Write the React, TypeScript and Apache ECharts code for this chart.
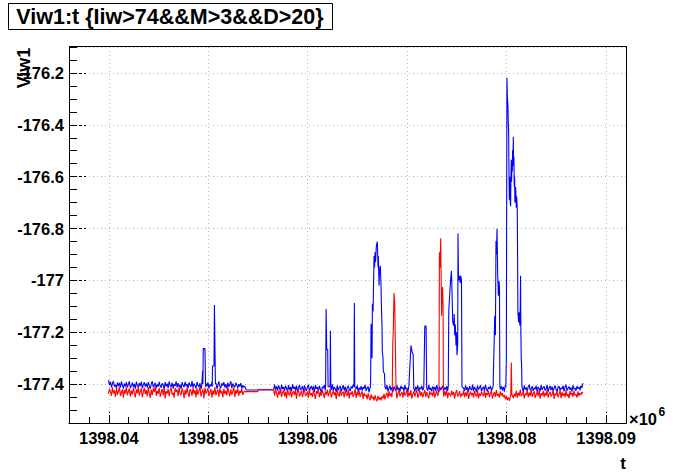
import React, { useEffect, useRef } from "react";
import * as echarts from "echarts";

// ---- sampling of the baseline (time in units of 10^6 s) ----
const T0 = 1398.03997;
const DT = 0.0001;

// ---- blue series baseline ----
const blueBase: number[] = [
  -177.386, -177.404, -177.391, -177.413, -177.397, -177.389, -177.41, -177.402, -177.416, -177.393,
  -177.408, -177.395, -177.414, -177.39, -177.403, -177.417, -177.398, -177.409, -177.392, -177.412,
  -177.401, -177.389, -177.415, -177.406, -177.394, -177.411, -177.399, -177.418, -177.391, -177.405,
  -177.413, -177.396, -177.408, -177.39, -177.416, -177.402, -177.393, -177.41, -177.397, -177.414,
  -177.392, -177.407, -177.418, -177.399, -177.389, -177.412, -177.404, -177.395, -177.416, -177.401,
  -177.41, -177.391, -177.406, -177.414, -177.397, -177.403, -177.419, -177.392, -177.409, -177.398,
  -177.415, -177.39, -177.404, -177.411, -177.394, -177.417, -177.4, -177.407, -177.389, -177.413,
  -177.396, -177.41, -177.402, -177.418, -177.393, -177.405, -177.412, -177.391, -177.408, -177.399,
  -177.416, -177.394, -177.403, -177.41, -177.388, -177.414, -177.398, -177.406, -177.417, -177.392,
  -177.405, -177.411, -177.396, -177.419, -177.401, -177.39, -177.413, -177.404, -177.397, -177.409,
  -177.393, -177.416, -177.402, -177.408, -177.391, -177.414, -177.399, -177.411, -177.395, -177.418,
  -177.404, -177.39, -177.409, -177.415, -177.397, -177.406, -177.392, -177.413, -177.4, -177.417,
  -177.394, -177.41, -177.403, -177.389, -177.416, -177.398, -177.407, -177.412, -177.395, -177.405,
  -177.414, -177.4, -177.409, -177.396, -177.418, -177.404, -177.412, -177.408, -177.419,
  -177.423, -177.423, -177.423, -177.423, -177.423, -177.423, -177.423, -177.423, -177.423, -177.423,
  -177.423, -177.423, -177.423, -177.423, -177.423, -177.423, -177.423, -177.423, -177.423, -177.423,
  -177.423, -177.423, -177.423, -177.423, -177.423, -177.423, -177.423, -177.423,
  -177.402, -177.42, -177.409, -177.425, -177.405, -177.416, -177.428, -177.403, -177.419, -177.411,
  -177.426, -177.407, -177.415, -177.43, -177.404, -177.421, -177.412, -177.427, -177.401, -177.418,
  -177.41, -177.424, -177.406, -177.429, -177.414, -177.403, -177.422, -177.417, -177.408, -177.431,
  -177.405, -177.419, -177.426, -177.411, -177.402, -177.428, -177.415, -177.407, -177.423, -177.409,
  -177.43, -177.404, -177.418, -177.412, -177.427, -177.406, -177.421, -177.432, -177.41, -177.416,
  -177.403, -177.425, -177.409, -177.419, -177.429, -177.407, -177.414, -177.422, -177.401, -177.426,
  -177.411, -177.418, -177.43, -177.405, -177.423, -177.413, -177.408, -177.428, -177.416, -177.404,
  -177.424, -177.41, -177.431, -177.415, -177.406, -177.42, -177.427, -177.409, -177.417, -177.402,
  -177.428, -177.412, -177.419, -177.405, -177.43, -177.414, -177.422, -177.408, -177.425, -177.411,
  -177.418, -177.403, -177.427, -177.416, -177.409, -177.432, -177.413, -177.406, -177.421, -177.429,
  -177.407, -177.423, -177.412, -177.404, -177.426, -177.418, -177.41, -177.43, -177.415, -177.408,
  -177.425, -177.411, -177.42, -177.403, -177.428, -177.417, -177.406, -177.424, -177.413, -177.431,
  -177.409, -177.419, -177.426, -177.405, -177.422, -177.414, -177.429, -177.407, -177.418, -177.412,
  -177.427, -177.404, -177.42, -177.415, -177.431, -177.408, -177.423, -177.411, -177.402, -177.426,
  -177.416, -177.429, -177.41, -177.421, -177.405, -177.428, -177.413, -177.419, -177.407, -177.424,
  -177.412, -177.43, -177.406, -177.417, -177.425, -177.403, -177.422, -177.414, -177.428, -177.409,
  -177.42, -177.411, -177.427, -177.404, -177.418, -177.431, -177.41, -177.423, -177.415, -177.406,
  -177.429, -177.413, -177.421, -177.408, -177.426, -177.417, -177.404, -177.424, -177.412, -177.43,
  -177.407, -177.419, -177.428, -177.414, -177.403, -177.425, -177.41, -177.42, -177.431, -177.409,
  -177.416, -177.426, -177.405, -177.422, -177.413, -177.429, -177.408, -177.418, -177.424, -177.402,
  -177.427, -177.411, -177.419, -177.43, -177.406, -177.421, -177.414, -177.404, -177.428, -177.417,
  -177.41, -177.425, -177.403, -177.42, -177.429, -177.412, -177.418, -177.407, -177.426, -177.415,
  -177.431, -177.409, -177.422, -177.413, -177.405, -177.427, -177.416, -177.42, -177.408, -177.424,
  -177.411, -177.429, -177.404, -177.418, -177.425, -177.41, -177.43, -177.414, -177.406, -177.421,
  -177.417, -177.403, -177.426, -177.412, -177.428, -177.407, -177.419, -177.423, -177.409, -177.415,
  -177.43, -177.405, -177.421, -177.413, -177.427, -177.41, -177.402, -177.424, -177.418, -177.408,
  -177.426, -177.414, -177.42, -177.406, -177.431, -177.411, -177.417, -177.428, -177.404, -177.422,
  -177.413, -177.409, -177.425, -177.418, -177.403, -177.429, -177.415, -177.407, -177.423, -177.41,
  -177.427, -177.416, -177.405, -177.42, -177.43, -177.412, -177.408, -177.424, -177.414, -177.419,
  -177.406, -177.428, -177.411, -177.402, -177.425, -177.417, -177.409, -177.422, -177.413, -177.429,
  -177.404, -177.42, -177.415, -177.426, -177.408, -177.418, -177.411, -177.424, -177.406, -177.415, -177.396,
];

// ---- red series baseline ----
const redBase: number[] = [
  -177.438, -177.418, -177.43, -177.445, -177.412, -177.436, -177.424, -177.449, -177.415, -177.441,
  -177.427, -177.411, -177.446, -177.433, -177.419, -177.452, -177.422, -177.437, -177.41, -177.443,
  -177.429, -177.416, -177.448, -177.425, -177.44, -177.413, -177.434, -177.451, -177.42, -177.436,
  -177.409, -177.444, -177.428, -177.417, -177.45, -177.431, -177.414, -177.439, -177.423, -177.447,
  -177.412, -177.435, -177.453, -177.421, -177.442, -177.416, -177.43, -177.408, -177.445, -177.426,
  -177.438, -177.414, -177.449, -177.432, -177.419, -177.444, -177.411, -177.455, -177.427, -177.437,
  -177.418, -177.446, -177.424, -177.413, -177.441, -177.433, -177.452, -177.415, -177.43, -177.421,
  -177.447, -177.41, -177.436, -177.443, -177.417, -177.429, -177.454, -177.422, -177.44, -177.412,
  -177.434, -177.45, -177.419, -177.427, -177.445, -177.414, -177.438, -177.423, -177.451, -177.416,
  -177.442, -177.426, -177.409, -177.448, -177.431, -177.42, -177.455, -177.413, -177.437, -177.428,
  -177.415, -177.446, -177.433, -177.418, -177.452, -177.424, -177.44, -177.411, -177.443, -177.43,
  -177.421, -177.449, -177.414, -177.436, -177.427, -177.451, -177.417, -177.439, -177.425, -177.444,
  -177.41, -177.432, -177.447, -177.419, -177.441, -177.428, -177.412, -177.45, -177.423, -177.437,
  -177.416, -177.445, -177.426, -177.434, -177.419, -177.442, -177.431, -177.427, -177.43,
  -177.429, -177.429, -177.429, -177.429, -177.429, -177.429, -177.429, -177.429, -177.429, -177.429,
  -177.429, -177.429,
  -177.421, -177.421, -177.421, -177.421, -177.421, -177.421, -177.421, -177.421, -177.421, -177.421,
  -177.421, -177.421, -177.421, -177.421, -177.421, -177.421,
  -177.445, -177.42, -177.436, -177.452, -177.426, -177.441, -177.418, -177.449, -177.432, -177.424,
  -177.447, -177.429, -177.455, -177.421, -177.438, -177.444, -177.419, -177.451, -177.434, -177.427,
  -177.442, -177.423, -177.456, -177.431, -177.418, -177.448, -177.437, -177.425, -177.45, -177.433,
  -177.421, -177.446, -177.439, -177.428, -177.453, -177.42, -177.443, -177.435, -177.449, -177.424,
  -177.44, -177.457, -177.426, -177.437, -177.419, -177.45, -177.431, -177.445, -177.422, -177.438,
  -177.454, -177.428, -177.441, -177.421, -177.447, -177.433, -177.418, -177.452, -177.436, -177.426,
  -177.443, -177.43, -177.458, -177.423, -177.439, -177.448, -177.42, -177.445, -177.434, -177.429,
  -177.451, -177.424, -177.437, -177.446, -177.422, -177.455, -177.432, -177.44, -177.427, -177.449,
  -177.436, -177.419, -177.453, -177.43, -177.444, -177.425, -177.45, -177.438, -177.428, -177.457,
  -177.434, -177.446, -177.441, -177.459, -177.436, -177.452, -177.462, -177.44, -177.455, -177.448,
  -177.464, -177.443, -177.458, -177.466, -177.445, -177.46, -177.451, -177.463, -177.447, -177.456,
  -177.438, -177.459, -177.442, -177.433, -177.454, -177.427, -177.446, -177.436, -177.451, -177.424,
  -177.441, -177.449, -177.429, -177.455, -177.435, -177.422, -177.447, -177.438, -177.43, -177.452,
  -177.426, -177.444, -177.437, -177.42, -177.45, -177.432, -177.445, -177.423, -177.456, -177.439,
  -177.428, -177.448, -177.434, -177.421, -177.453, -177.44, -177.425, -177.446, -177.431, -177.451,
  -177.437, -177.422, -177.449, -177.43, -177.443, -177.455, -177.427, -177.44, -177.433, -177.447,
  -177.42, -177.452, -177.438, -177.426, -177.445, -177.431, -177.458, -177.424, -177.441, -177.436,
  -177.449, -177.428, -177.444, -177.421, -177.454, -177.433, -177.439, -177.447, -177.425, -177.442,
  -177.43, -177.456, -177.435, -177.422, -177.448, -177.44, -177.427, -177.451, -177.437, -177.444,
  -177.424, -177.45, -177.432, -177.446, -177.42, -177.457, -177.438, -177.429, -177.443, -177.434,
  -177.452, -177.426, -177.441, -177.448, -177.423, -177.455, -177.436, -177.445, -177.43, -177.439,
  -177.447, -177.421, -177.453, -177.434, -177.442, -177.427, -177.45, -177.437, -177.425, -177.456,
  -177.44, -177.431, -177.449, -177.423, -177.446, -177.438, -177.452, -177.428, -177.444, -177.435,
  -177.45, -177.442, -177.458, -177.446, -177.462, -177.451, -177.465, -177.449, -177.459, -177.444,
  -177.454, -177.437, -177.448, -177.426, -177.452, -177.433, -177.445, -177.421, -177.447, -177.439,
  -177.429, -177.455, -177.436, -177.443, -177.424, -177.451, -177.432, -177.446, -177.42, -177.449,
  -177.438, -177.427, -177.453, -177.441, -177.43, -177.447, -177.422, -177.456, -177.435, -177.444,
  -177.426, -177.45, -177.433, -177.445, -177.421, -177.452, -177.437, -177.429, -177.448, -177.44,
  -177.424, -177.457, -177.436, -177.443, -177.428, -177.451, -177.439, -177.423, -177.454, -177.431,
  -177.446, -177.435, -177.45, -177.422, -177.447, -177.438, -177.455, -177.427, -177.442, -177.433,
  -177.449, -177.425, -177.444, -177.439, -177.452, -177.428, -177.446, -177.434, -177.441, -177.43, -177.436,
];

// ---- blue excursions: [t, Viw1] ----
const blueSpikes: number[][][] = [
  [[1398.04935, -177.405], [1398.04943, -177.35], [1398.04946, -177.4], [1398.0495, -177.263], [1398.04967, -177.263], [1398.04973, -177.41]],
  [[1398.0504, -177.41], [1398.05043, -177.33], [1398.05058, -177.33], [1398.05062, -177.095], [1398.05067, -177.095], [1398.05072, -177.4]],
  [[1398.0618, -177.405], [1398.06185, -177.11], [1398.06191, -177.267], [1398.06201, -177.267], [1398.06205, -177.41], [1398.06225, -177.41], [1398.06228, -177.194], [1398.06232, -177.41]],
  [[1398.06465, -177.41], [1398.06469, -177.087], [1398.06473, -177.41]],
  [[1398.06632, -177.41], [1398.06637, -177.167], [1398.06647, -177.3], [1398.0665, -177.09], [1398.06657, -177.12], [1398.06667, -176.906], [1398.06672, -176.95], [1398.06677, -176.892], [1398.06682, -176.93], [1398.0669, -176.867], [1398.067, -176.851], [1398.06707, -176.95], [1398.0671, -176.906], [1398.06717, -177.02], [1398.06722, -176.96], [1398.0673, -176.944], [1398.06737, -177.02], [1398.0674, -177.083], [1398.06747, -177.18], [1398.0675, -177.275], [1398.06757, -177.3], [1398.0676, -177.351], [1398.06772, -177.36], [1398.06777, -177.41]],
  [[1398.0702, -177.41], [1398.07026, -177.34], [1398.07038, -177.251], [1398.07049, -177.275], [1398.0706, -177.286], [1398.07066, -177.41]],
  [[1398.0717, -177.41], [1398.07177, -177.176], [1398.0719, -177.176], [1398.07196, -177.41]],
  [[1398.07413, -177.41], [1398.07418, -177.121], [1398.07425, -177.07], [1398.07435, -177.007], [1398.07445, -176.963], [1398.07451, -177.05], [1398.07458, -177.16], [1398.07468, -177.174], [1398.07473, -177.13], [1398.07478, -177.212], [1398.07484, -177.17], [1398.07491, -177.251], [1398.07496, -177.2], [1398.07501, -177.289], [1398.07508, -177.25], [1398.07511, -176.819], [1398.07516, -177.0], [1398.07525, -176.982], [1398.07533, -177.01], [1398.07538, -176.982], [1398.07546, -177.0], [1398.07551, -177.41]],
  [[1398.07864, -177.41], [1398.07869, -177.32], [1398.07874, -177.25], [1398.0788, -177.136], [1398.07887, -177.212], [1398.07893, -176.848], [1398.07898, -176.9], [1398.07903, -176.801], [1398.0791, -176.976], [1398.07917, -177.059], [1398.07923, -177.002], [1398.07928, -177.03], [1398.07932, -177.41]],
  [[1398.07992, -177.41], [1398.07997, -177.3], [1398.08003, -176.219], [1398.08008, -176.3], [1398.08013, -176.325], [1398.08017, -176.4], [1398.0802, -176.427], [1398.08024, -176.6], [1398.08027, -176.689], [1398.0803, -176.6], [1398.08033, -176.624], [1398.08036, -176.7], [1398.0804, -176.714], [1398.08043, -176.6], [1398.08047, -176.535], [1398.0805, -176.62], [1398.08053, -176.548], [1398.08057, -176.58], [1398.0806, -176.497], [1398.08064, -176.55], [1398.08067, -176.446], [1398.0807, -176.56], [1398.08073, -176.523], [1398.08077, -176.64], [1398.0808, -176.6], [1398.08083, -176.7], [1398.08087, -176.689], [1398.0809, -176.64], [1398.08093, -176.663], [1398.08097, -176.72], [1398.081, -176.676], [1398.08104, -176.7], [1398.08107, -176.727], [1398.0811, -176.9], [1398.08113, -177.123], [1398.08117, -177.14], [1398.0812, -177.161], [1398.08124, -177.13], [1398.08127, -177.123], [1398.0813, -177.16], [1398.08133, -177.174], [1398.08137, -177.1], [1398.0814, -176.982], [1398.08143, -177.2], [1398.08147, -177.302], [1398.0815, -177.32], [1398.08154, -177.41]],
];

// ---- red excursions: [t, Viw1] ----
const redSpikes: number[][][] = [
  [[1398.0685, -177.425], [1398.06855, -177.244], [1398.0686, -177.2], [1398.06865, -177.1], [1398.06868, -177.049], [1398.06875, -177.09], [1398.06882, -177.09], [1398.06888, -177.425]],
  [[1398.0732, -177.425], [1398.07324, -176.892], [1398.0733, -176.95], [1398.07337, -176.838], [1398.07342, -177.0], [1398.07346, -177.136], [1398.07351, -177.05], [1398.07356, -177.026], [1398.07361, -177.1], [1398.07364, -177.425]],
  [[1398.08042, -177.44], [1398.08047, -177.317], [1398.08052, -177.44]],
];

// ---- axes ----
const X_MIN = 1398.036;
const X_MAX = 1398.092;
const X_MINOR = 0.002;
const Y_MIN = -177.55;
const Y_MAX = -176.1;
const Y_MINOR = 0.05;

const TITLE = "Viw1:t {Iiw>74&&M>3&&D>20}";
const Y_TITLE = "Viw1";
const X_TITLE = "t";

function buildSeries(base: number[], spikes: number[][][]): number[][] {
  const pts = base.map((v, i) => [T0 + i * DT, v]);
  const kept = pts.filter(
    ([t]) => !spikes.some((g) => t > g[0][0] && t < g[g.length - 1][0])
  );
  const all = kept.concat(...spikes);
  all.sort((a, b) => a[0] - b[0]);
  return all;
}

const FONT = '"Liberation Sans", Arial, Helvetica, sans-serif';

export default function App() {
  const ref = useRef<HTMLDivElement>(null);
  useEffect(() => {
    if (!ref.current) return;
    const chart = echarts.init(ref.current, undefined, { renderer: "svg" });
    const grid = "#b8b8b8";
    const labelStyle = {
      color: "#000",
      fontFamily: FONT,
      fontWeight: "bold" as const,
      fontSize: 16.5,
    };
    chart.setOption({
      animation: false,
      backgroundColor: "#fff",
      grid: { left: 69, right: 70, top: 47, bottom: 49, show: false },
      xAxis: [
        {
          type: "value",
          min: X_MIN,
          max: X_MAX,
          splitNumber: 5,
          position: "bottom",
          axisLine: { show: true, onZero: false, lineStyle: { color: "#000", width: 1 } },
          axisTick: { show: true, inside: true, length: 11, lineStyle: { color: "#000", width: 1, type: [3, 2] } },
          axisLabel: {
            ...labelStyle,
            margin: 6,
            showMinLabel: false,
            showMaxLabel: false,
            formatter: (v: number) => v.toFixed(2),
          },
          splitLine: { show: true, lineStyle: { color: grid, width: 1, type: [1, 3] } },
        },
        {
          type: "value",
          min: X_MIN,
          max: X_MAX,
          interval: X_MINOR,
          position: "bottom",
          axisLine: { show: false },
          axisTick: { show: true, inside: true, length: 6, lineStyle: { color: "#000", width: 1 } },
          axisLabel: { show: false },
          splitLine: { show: false },
        },
      ],
      yAxis: [
        {
          type: "value",
          min: Y_MIN,
          max: Y_MAX,
          splitNumber: 7,
          position: "left",
          axisLine: { show: true, onZero: false, lineStyle: { color: "#000", width: 1 } },
          axisTick: { show: true, inside: true, length: 17, lineStyle: { color: "#000", width: 1, type: [3, 2] } },
          axisLabel: {
            ...labelStyle,
            margin: 5,
            showMinLabel: false,
            showMaxLabel: false,
            formatter: (v: number) => String(parseFloat(v.toFixed(1))),
          },
          splitLine: { show: true, lineStyle: { color: grid, width: 1, type: [1, 3] } },
        },
        {
          type: "value",
          min: Y_MIN,
          max: Y_MAX,
          interval: Y_MINOR,
          position: "left",
          axisLine: { show: false },
          axisTick: { show: true, inside: true, length: 8, lineStyle: { color: "#000", width: 1 } },
          axisLabel: { show: false },
          splitLine: { show: false },
        },
      ],
      series: [
        {
          type: "line",
          xAxisIndex: 0,
          yAxisIndex: 0,
          data: buildSeries(blueBase, blueSpikes),
          showSymbol: false,
          symbol: "none",
          lineStyle: { color: "#0000ff", width: 1.1 },
          itemStyle: { color: "#0000ff" },
          silent: true,
          clip: true,
        },
        {
          type: "line",
          xAxisIndex: 0,
          yAxisIndex: 0,
          data: buildSeries(redBase, redSpikes),
          showSymbol: false,
          symbol: "none",
          lineStyle: { color: "#ff0000", width: 1.1 },
          itemStyle: { color: "#ff0000" },
          silent: true,
          clip: true,
        },
      ],
      graphic: [
        {
          type: "rect",
          silent: true,
          z: 100,
          shape: { x: 69.5, y: 46.5, width: 557, height: 377 },
          style: { fill: "none", stroke: "#000", lineWidth: 1 },
        },
        {
          type: "rect",
          silent: true,
          z: 100,
          shape: { x: 8.5, y: 3.5, width: 324, height: 26 },
          style: { fill: "#fff", stroke: "#000", lineWidth: 1 },
        },
        {
          type: "text",
          silent: true,
          z: 101,
          x: 170,
          y: 17,
          style: {
            text: TITLE,
            fill: "#000",
            fontFamily: FONT,
            fontWeight: "bold",
            fontSize: 21.5,
            align: "center",
            verticalAlign: "middle",
          },
        },
        {
          type: "text",
          silent: true,
          z: 101,
          x: 24,
          y: 68,
          rotation: Math.PI / 2,
          style: {
            text: Y_TITLE,
            fill: "#000",
            fontFamily: FONT,
            fontWeight: "bold",
            fontSize: 18,
            align: "center",
            verticalAlign: "middle",
          },
        },
        {
          type: "text",
          silent: true,
          z: 101,
          x: 626,
          y: 463,
          style: {
            text: X_TITLE,
            fill: "#000",
            fontFamily: FONT,
            fontWeight: "bold",
            fontSize: 17,
            align: "right",
            verticalAlign: "middle",
          },
        },
        {
          type: "text",
          silent: true,
          z: 101,
          x: 629,
          y: 419,
          style: {
            text: "×10",
            fill: "#000",
            fontFamily: FONT,
            fontWeight: "bold",
            fontSize: 16.5,
            align: "left",
            verticalAlign: "middle",
          },
        },
        {
          type: "text",
          silent: true,
          z: 101,
          x: 658.5,
          y: 411.5,
          style: {
            text: "6",
            fill: "#000",
            fontFamily: FONT,
            fontWeight: "bold",
            fontSize: 12,
            align: "left",
            verticalAlign: "middle",
          },
        },
      ],
    });
    return () => chart.dispose();
  }, []);
  return (
    <div
      ref={ref}
      style={{ position: "fixed", left: 0, top: 0, width: 696, height: 472, background: "#fff" }}
    />
  );
}
